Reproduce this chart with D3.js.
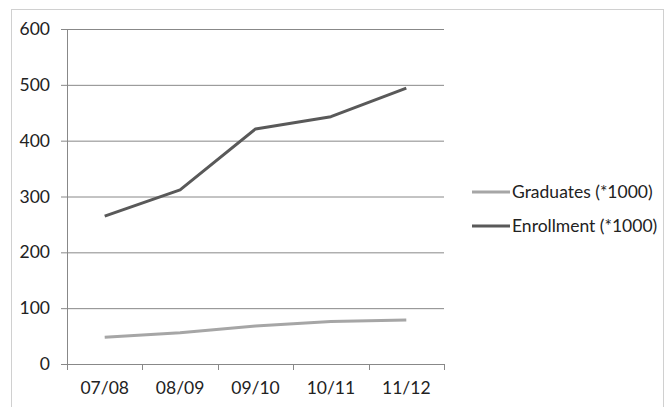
<!DOCTYPE html>
<html>
<head>
<meta charset="utf-8">
<script src="https://cdn.jsdelivr.net/npm/d3@7"></script>
<style>
  html, body { margin: 0; padding: 0; background: #fff; }
  svg { display: block; }
  text { font-family: Lato, "Open Sans", sans-serif; fill: #222; }
</style>
</head>
<body>
<svg id="chart" width="666" height="407"></svg>
<script>
const years = ["07/08", "08/09", "09/10", "10/11", "11/12"];
const graduates = [48, 56, 68, 76, 79];
const enrollment = [265, 312, 421, 443, 494];
const yTicks = [0, 100, 200, 300, 400, 500, 600];
const seriesNames = ["Graduates (*1000)", "Enrollment (*1000)"];
const seriesColors = ["#a6a6a6", "#595959"];

const svg = d3.select("#chart");
const W = 666, H = 407;
const FONT = "17.5px";

// chart frame
svg.append("rect")
  .attr("x", 11.5).attr("y", 9.5)
  .attr("width", W - 14).attr("height", H)
  .attr("fill", "none").attr("stroke", "#d0d0d0");

const plot = { left: 67, right: 444, top: 29, bottom: 364 };

const x = d3.scaleBand().domain(years).range([plot.left, plot.right]);
const y = d3.scaleLinear().domain([0, 600]).range([plot.bottom, plot.top]);

// horizontal gridlines with outward ticks
const yAxis = svg.append("g")
  .attr("transform", `translate(${plot.left},0)`)
  .call(d3.axisLeft(y).tickValues(yTicks).tickSize(6).tickPadding(11)
    .tickFormat(d3.format("d")));
yAxis.select(".domain").remove();
yAxis.selectAll(".tick line")
  .attr("x1", -6).attr("x2", plot.right - plot.left)
  .attr("stroke", "#888");
yAxis.selectAll(".tick text")
  .style("font-size", FONT).style("font-family", "Lato, sans-serif")
  .attr("fill", "#222");

// vertical axis line
svg.append("line")
  .attr("x1", plot.left + 0.5).attr("x2", plot.left + 0.5)
  .attr("y1", plot.top).attr("y2", plot.bottom + 6)
  .attr("stroke", "#888");

// category ticks at band edges
const edges = years.map(d => x(d)).concat([plot.right]);
svg.append("g").selectAll("line")
  .data(edges.slice(1))
  .join("line")
  .attr("x1", d => Math.round(d) + 0.5).attr("x2", d => Math.round(d) + 0.5)
  .attr("y1", plot.bottom).attr("y2", plot.bottom + 6)
  .attr("stroke", "#888");

// category labels
svg.append("g").selectAll("text")
  .data(years)
  .join("text")
  .attr("x", d => x(d) + x.bandwidth() / 2)
  .attr("y", 394)
  .attr("text-anchor", "middle")
  .style("font-size", FONT)
  .text(d => d);

// series lines
const line = d3.line()
  .x((d, i) => x(years[i]) + x.bandwidth() / 2)
  .y(d => y(d));

[graduates, enrollment].forEach((vals, k) => {
  svg.append("path")
    .datum(vals)
    .attr("d", line)
    .attr("fill", "none")
    .attr("stroke", seriesColors[k])
    .attr("stroke-width", 3)
    .attr("stroke-linejoin", "round");
});

// legend
const legend = svg.append("g");
seriesNames.forEach((name, k) => {
  const ly = 192 + k * 34;
  legend.append("line")
    .attr("x1", 472).attr("x2", 510)
    .attr("y1", ly).attr("y2", ly)
    .attr("stroke", seriesColors[k]).attr("stroke-width", 3);
  legend.append("text")
    .attr("x", 512).attr("y", ly + 6)
    .style("font-size", FONT)
    .text(name);
});
</script>
</body>
</html>
